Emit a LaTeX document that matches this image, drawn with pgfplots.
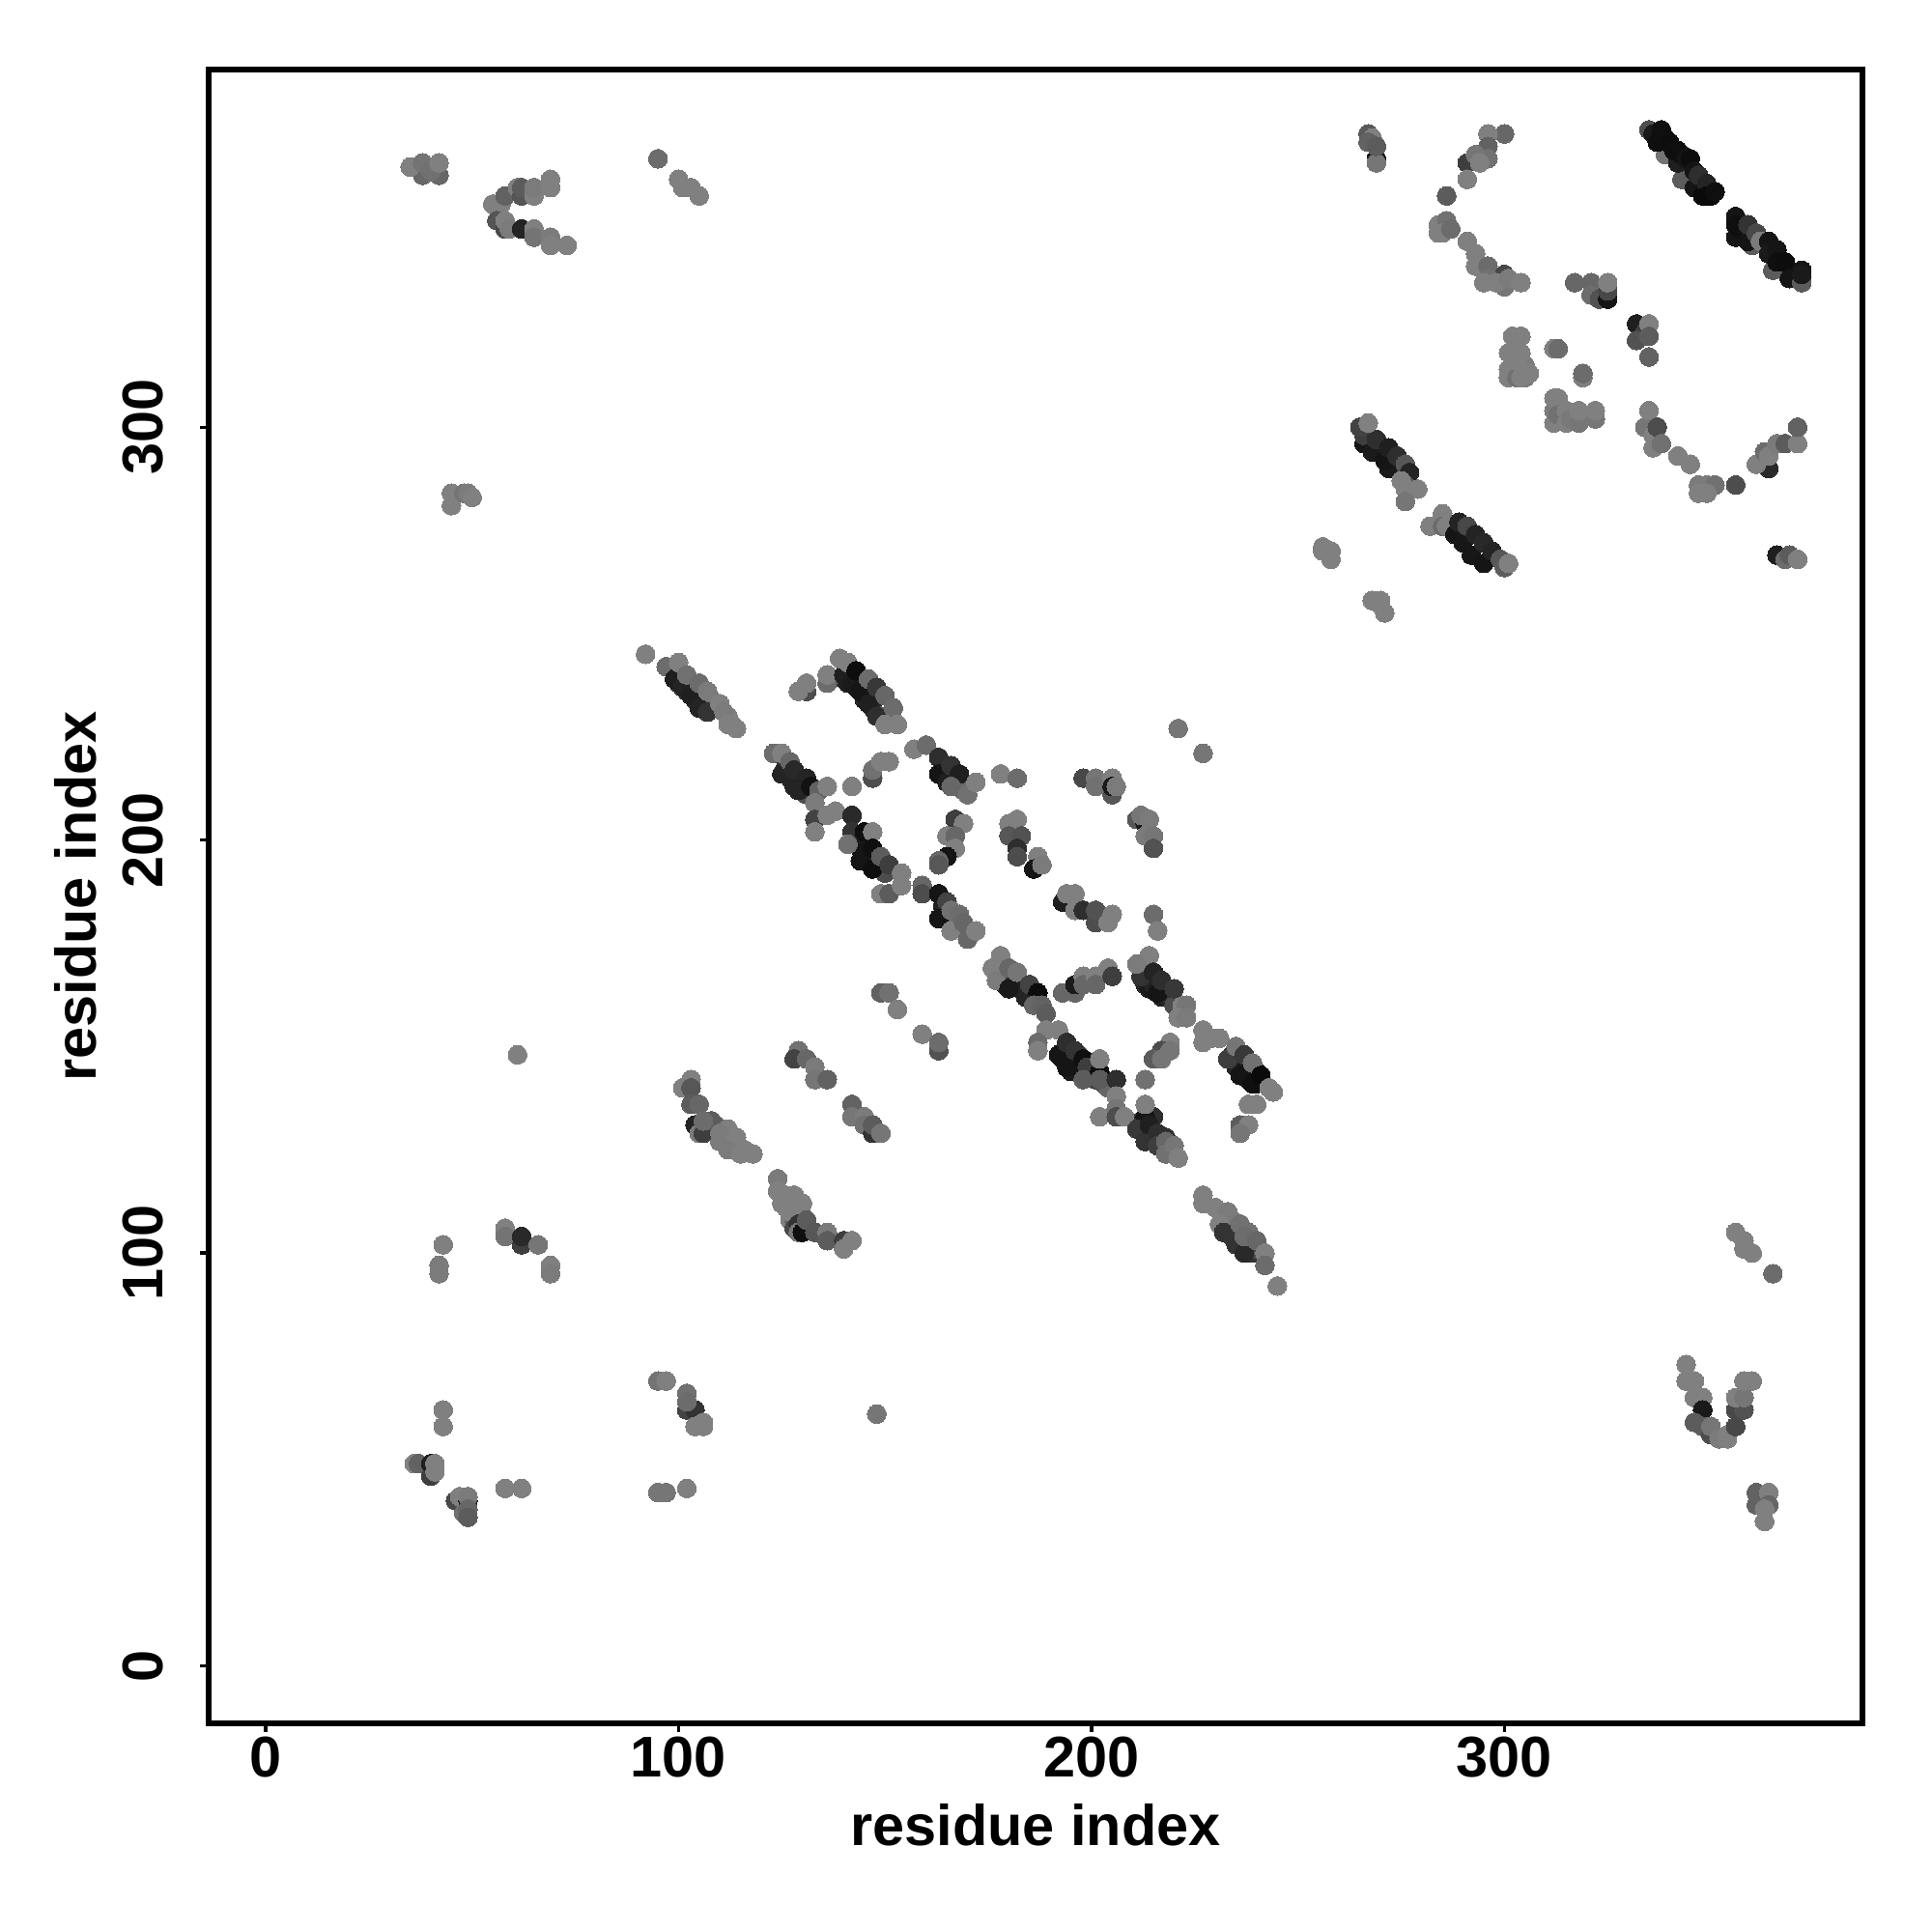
\documentclass[border=0pt]{standalone}
\usepackage{fontspec}
\setmainfont{Liberation Sans}
\usepackage{pgfplots}
\usepackage{pgfplotstable}
\pgfplotsset{compat=1.18}
\pgfplotstableread{
x y g
100 238 14
102 236 20
104 234 14
106 232 30
140 239 20
141 238 12
143 237 10
145 234 14
147 232 16
149 230 36
108 234 45
109 232 48
112 230 50
113 228 50
164 218 20
165 216 12
167 214 14
168 213 30
169 212 40
126 218 20
127 215 16
128 213 14
130 213 12
131 211 30
143 200 12
144 198 10
145 197 8
146 195 8
148 195 14
149 193 18
150 192 30
164 184 12
165 182 14
166 180 24
167 181 40
179 165 14
181 166 18
183 164 12
184 162 14
193 147 8
195 147 12
195 144 10
197 145 8
197 148 24
199 143 14
200 146 20
200 144 10
201 142 24
203 141 28
204 140 40
212 132 22
213 129 14
215 128 14
215 133 18
217 127 24
218 128 20
219 125 34
213 165 14
214 164 10
215 165 14
218 164 20
217 162 12
219 162 16
220 160 30
222 160 50
234 148 20
235 145 14
236 146 16
237 144 8
238 142 8
240 144 10
240 141 8
233 106 30
234 104 26
236 103 22
238 102 30
239 100 20
240 101 30
234 108 46
238 105 44
126 111 50
127 108 50
128 108 40
128 106 28
130 107 12
105 131 20
106 131 26
108 130 38
109 131 40
38 361 40
42 361 40
35 363 50
38 364 45
40 362 44
42 364 50
55 354 50
57 354 50
58 356 38
61 358 50
62 356 33
62 358 36
65 358 15
65 356 50
65 358 48
69 360 50
69 358 50
56 350 33
58 348 28
58 350 50
59 348 48
62 348 14
65 348 50
65 346 45
69 346 48
69 344 50
73 344 50
95 365 42
100 360 50
101 358 50
103 358 50
105 356 50
45 284 50
45 281 50
48 284 45
49 284 48
50 283 50
43 102 50
42 97 48
42 95 48
58 106 50
58 104 45
62 102 24
62 104 16
66 102 46
69 97 50
69 95 48
43 62 50
43 58 50
36 49 50
37 49 38
40 46 24
40 49 12
41 49 50
41 47 50
46 40 28
47 41 50
49 40 12
49 41 48
48 37 44
49 38 40
49 36 36
58 43 50
62 43 50
95 69 45
97 69 50
102 62 26
104 62 20
102 66 44
102 64 42
104 58 50
106 59 50
106 58 50
95 42 46
97 42 46
102 43 50
92 245 50
97 242 42
99 239 12
101 237 14
103 235 12
105 232 14
107 231 20
100 243 50
102 240 44
105 238 42
107 236 48
110 233 50
111 231 48
112 228 50
114 227 50
131 236 30
129 236 50
131 238 50
136 238 42
136 240 50
140 240 12
142 238 10
144 236 8
146 233 12
148 230 18
139 244 50
141 243 50
143 241 5
146 239 42
148 237 22
150 235 40
152 232 42
150 228 50
153 228 50
157 222 50
160 223 42
163 220 18
163 216 8
165 214 12
166 218 20
168 216 12
166 213 40
170 211 44
172 214 50
125 216 14
129 212 14
123 221 42
125 221 50
127 219 40
128 217 16
131 215 14
132 213 7
134 212 38
136 213 50
133 209 48
142 213 50
147 215 30
147 217 44
149 219 50
151 219 50
133 205 26
133 202 50
136 206 50
138 207 50
142 206 16
142 202 20
141 199 44
144 195 8
147 193 6
145 202 6
147 202 50
147 198 6
149 196 36
151 194 24
149 187 50
151 187 36
154 192 50
154 189 50
159 189 40
159 187 30
163 187 8
165 185 26
163 181 8
166 183 44
168 182 42
166 178 50
169 180 40
170 176 40
172 178 50
167 205 24
169 204 50
165 201 50
167 201 40
167 198 50
165 196 8
163 195 40
163 194 34
180 204 50
182 205 50
180 201 34
183 201 32
182 198 18
182 196 30
187 196 50
186 193 8
188 194 48
193 185 12
194 187 50
196 187 50
196 183 50
198 183 18
201 180 30
201 183 32
205 182 50
204 180 50
178 216 50
182 215 42
198 215 28
201 215 46
201 213 44
205 215 50
205 211 34
205 213 10
206 213 48
221 227 46
227 221 46
211 205 34
213 204 10
212 206 46
214 205 48
213 201 48
215 201 46
215 198 32
149 163 38
151 163 44
153 159 50
215 182 42
216 178 50
176 169 50
177 166 48
180 164 10
178 172 50
180 169 40
182 168 46
185 165 26
187 163 5
186 160 40
188 160 38
189 158 36
189 154 50
192 154 50
187 151 42
187 149 50
192 148 8
194 145 8
194 151 18
196 149 20
198 147 6
199 145 24
198 142 36
202 144 6
202 147 50
202 142 36
206 142 18
206 138 50
206 135 46
202 133 50
206 133 30
208 133 50
213 133 8
211 130 22
213 127 20
214 131 12
216 129 18
216 126 24
218 127 40
218 124 44
220 126 46
221 123 50
213 136 50
193 163 40
196 163 40
196 165 10
198 167 50
198 165 40
201 167 50
201 165 40
204 169 50
205 167 24
212 167 20
216 163 8
214 172 50
211 170 48
215 168 14
217 166 18
220 164 22
223 160 46
221 157 50
223 157 48
219 151 50
217 149 30
219 149 46
215 147 36
217 147 46
213 142 44
227 154 50
227 151 50
231 152 50
229 152 50
233 147 24
235 150 46
237 148 22
236 143 8
239 141 6
239 146 44
241 143 4
243 140 50
244 139 50
240 136 50
238 136 50
236 131 36
238 131 50
236 129 46
227 114 50
227 112 50
230 111 50
233 110 48
231 107 50
232 105 20
235 102 20
237 100 16
236 107 44
237 104 42
240 103 40
242 100 50
242 97 42
245 92 50
129 149 44
128 147 26
131 147 40
133 145 48
133 142 46
136 142 38
142 136 38
142 133 46
145 133 48
145 131 44
147 129 20
147 131 36
149 129 46
159 153 50
163 149 32
163 151 42
103 142 50
101 140 50
103 140 34
103 136 36
105 136 40
104 131 14
105 129 48
106 129 24
108 132 36
106 132 42
112 130 50
110 129 48
110 127 48
114 128 50
112 125 48
116 125 50
115 124 50
118 124 50
124 118 48
124 115 50
126 114 50
128 114 50
125 112 50
130 112 50
127 110 50
129 107 20
129 105 46
130 105 6
131 108 36
133 105 34
136 105 48
136 103 36
140 103 24
140 101 50
142 103 50
61 148 50
148 61 46
269 365 8
267 371 35
268 370 50
267 369 38
269 364 46
269 368 36
300 371 40
296 371 50
291 364 24
296 368 38
296 365 44
293 366 46
294 364 50
291 360 50
286 356 36
284 349 50
284 347 50
286 350 44
285 347 50
287 348 42
291 345 50
293 342 50
293 339 50
296 339 42
296 336 44
300 337 28
300 334 46
295 335 50
298 335 50
301 336 48
304 335 50
339 366 45
343 360 36
346 358 8
345 362 36
348 356 4
335 372 30
336 371 10
337 369 6
338 372 6
339 370 6
340 369 5
342 364 12
342 367 5
341 367 6
343 366 6
344 365 8
345 365 5
346 362 8
347 361 18
349 359 14
349 356 4
350 356 4
351 357 6
360 344 36
356 351 8
356 349 6
356 346 8
358 347 8
357 348 6
359 345 8
359 349 20
361 347 28
362 345 48
364 345 8
364 342 10
365 338 36
366 343 8
366 340 6
368 340 5
369 336 8
372 335 36
372 338 8
372 337 10
317 335 40
321 335 40
321 332 42
323 331 32
325 331 8
325 333 28
325 335 50
332 325 12
334 323 24
332 321 32
335 325 50
335 322 36
335 317 38
301 314 50
301 312 50
303 312 44
305 312 48
305 315 48
302 322 50
304 322 50
301 318 50
304 318 50
303 316 50
306 313 50
304 312 50
312 319 50
313 319 42
319 312 50
319 313 42
312 301 50
312 304 48
312 307 50
313 307 50
313 303 44
315 301 50
315 304 50
316 302 47
318 301 46
318 304 50
322 302 46
322 304 50
334 300 46
335 304 50
336 298 50
337 300 30
336 295 50
338 296 44
342 293 50
345 291 50
347 286 48
349 286 48
351 286 44
347 284 50
349 284 50
356 286 30
364 290 16
361 291 50
363 294 42
364 293 50
366 296 48
368 296 36
371 296 50
371 300 38
266 296 8
266 298 24
268 294 10
269 297 18
272 290 10
271 292 8
272 295 12
274 293 18
276 291 34
277 289 14
265 300 26
267 301 50
276 286 36
275 287 50
279 285 50
276 285 50
276 282 46
282 276 50
285 279 50
285 276 42
286 276 50
288 274 8
289 277 14
290 272 9
291 276 28
293 274 14
292 269 9
295 267 8
295 272 16
297 270 14
299 268 34
300 266 36
301 267 50
366 269 12
368 268 42
369 269 36
371 268 50
256 271 50
258 270 50
258 268 50
256 270 50
268 258 50
270 258 50
271 255 50
270 257 50
356 105 50
358 103 50
358 101 50
360 100 50
365 95 42
344 73 50
344 69 50
346 69 50
346 65 50
348 65 50
348 62 10
346 59 36
348 58 36
350 56 30
350 58 46
352 55 48
354 56 50
354 55 50
356 58 28
356 62 28
358 62 32
356 65 50
358 65 8
358 65 46
358 69 50
360 69 50
361 42 38
361 39 38
364 42 50
364 39 40
363 38 50
363 35 50
}\contacts
\begin{document}
\begin{tikzpicture}
\path[use as bounding box] (-77.76pt,-77.76pt) rectangle +(720pt,720pt);
\begin{axis}[
  at={(0pt,0pt)}, anchor=south west,
  scale only axis, width=616.32pt, height=616.32pt,
  xmin=-13.8, xmax=386.7, ymin=-13.9, ymax=386.6,
  xtick={0,100,200,300}, ytick={0,100,200,300},
  tick pos=left, tick align=outside,
  major tick length=3.1pt,
  tick style={black, line width=1.2pt},
  axis line style={black, line width=1.9pt},
  /pgf/number format/assume math mode=true,
  tick label style={font=\fontsize{21.4}{24}\selectfont\bfseries},
  xticklabel style={anchor=base, yshift=-17pt},
  yticklabel style={rotate=90, anchor=center, yshift=21.5pt},
  xlabel={residue index}, ylabel={residue index},
  label style={font=\fontsize{21.4}{24}\selectfont\bfseries},
  xlabel style={at={(axis description cs:0.5,0)}, anchor=base, yshift=-45.4pt},
  ylabel style={at={(axis description cs:0,0.5)}, anchor=center, yshift=49.7pt},
  colormap/blackwhite,
  point meta min=0, point meta max=100,
]
\addplot[
  only marks, mark=*, mark size=3.5pt,
  scatter, scatter src=explicit,
  scatter/use mapped color={fill=mapped color, draw=mapped color, line width=0pt},
] table[x=x, y=y, meta=g] {\contacts};
\end{axis}
\end{tikzpicture}
\end{document}
